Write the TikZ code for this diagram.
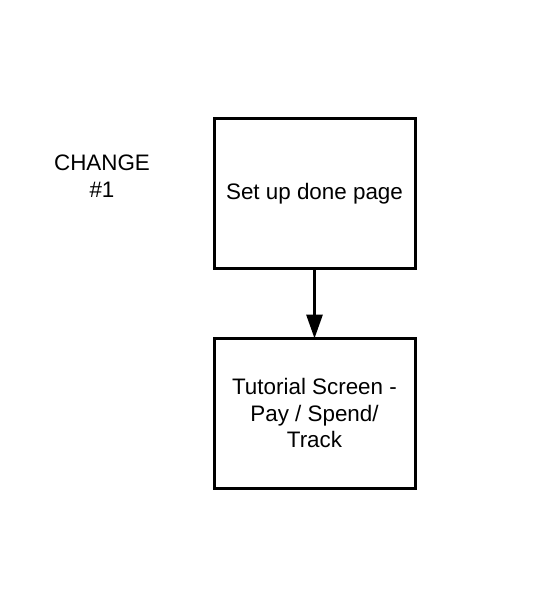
\documentclass[tikz,border=0pt]{standalone}
\usepackage{fontspec}
\setmainfont{Liberation Sans}
\usetikzlibrary{arrows.meta}
\tikzset{
  stepbox/.style={rectangle, draw=black, line width=2.25pt, minimum width=150.75pt, minimum height=112.5pt, align=center, font=\fontsize{16.8}{20.2}\selectfont},
  label/.style={align=center, font=\fontsize{16.8}{20.2}\selectfont},
  arrow/.style={-{Triangle[length=18pt, width=12pt]}, line width=2.25pt, shorten >=-1.5pt}
}
\begin{document}
\begin{tikzpicture}[x=0.75pt, y=-0.75pt]
  \useasboundingbox (0,0) rectangle (539,589);
  \node[label] (change) at (102,176) {CHANGE\\\#1};
  \node[stepbox] (done) at (314.5,193.5) {Set up done page};
  \node[stepbox] (tutorial) at (314.5,413) {Tutorial Screen -\\Pay / Spend/\\Track};
  \draw[arrow] (done)--(tutorial);
\end{tikzpicture}
\end{document}
